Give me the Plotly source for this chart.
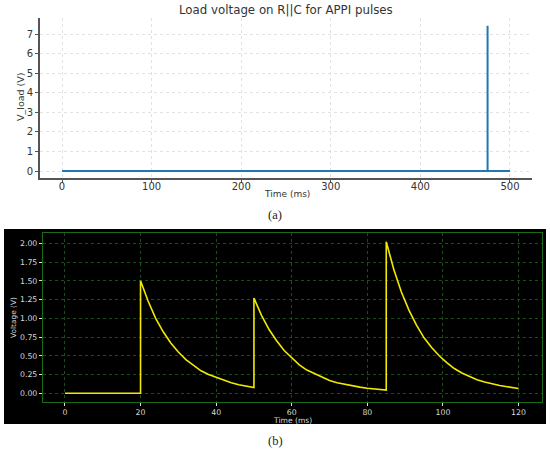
import plotly.graph_objects as go

# ---- (a) data ----
time_a = [0, 475, 475, 475, 500]
v_load = [0, 0, 7.43, 0, 0]
xticks_a = [0, 100, 200, 300, 400, 500]
yticks_a = [0, 1, 2, 3, 4, 5, 6, 7]

# ---- (b) data ----
time_b = [0, 20, 20, 22, 24, 26, 28, 30, 32, 34, 36, 38, 40, 42, 44, 46, 48, 50,
          50, 52, 54, 56, 58, 60, 62, 64, 66, 68, 70, 72, 74, 76, 78, 80, 82, 84, 85,
          85, 87, 89, 91, 93, 95, 97, 99, 101, 103, 105, 107, 109, 111, 113, 115, 117, 119, 120]
volt_b = [0, 0, 1.50, 1.23, 1.00, 0.82, 0.67, 0.55, 0.45, 0.37, 0.30, 0.25, 0.21, 0.17, 0.14, 0.115, 0.095, 0.078,
          1.27, 1.04, 0.85, 0.70, 0.57, 0.47, 0.38, 0.31, 0.26, 0.21, 0.17, 0.14, 0.118, 0.098, 0.082, 0.068, 0.056, 0.047, 0.044,
          2.02, 1.65, 1.35, 1.11, 0.91, 0.74, 0.61, 0.50, 0.41, 0.33, 0.27, 0.22, 0.18, 0.15, 0.125, 0.105, 0.088, 0.072, 0.065]
xticks_b = [0, 20, 40, 60, 80, 100, 120]
yticks_b = [0.0, 0.25, 0.5, 0.75, 1.0, 1.25, 1.5, 1.75, 2.0]

W, H = 550, 449
def px(x): return x / W
def py(y): return (H - y) / H

fig = go.Figure()
fig.add_trace(go.Scatter(x=time_a, y=v_load, mode="lines",
                         line=dict(color="#1f77b4", width=2), xaxis="x", yaxis="y",
                         showlegend=False, hoverinfo="skip"))
fig.add_trace(go.Scatter(x=time_b, y=volt_b, mode="lines",
                         line=dict(color="#f2ea00", width=1.6), xaxis="x2", yaxis="y2",
                         showlegend=False, hoverinfo="skip"))

font = "DejaVu Sans, Arial, sans-serif"
serif = "Liberation Serif, Times New Roman, serif"

def ann(text, x, y, size, color, family=font, angle=0):
    return dict(text=text, xref="paper", yref="paper", x=px(x), y=py(y),
                xanchor="center", yanchor="middle", showarrow=False, textangle=angle,
                font=dict(size=size, color=color, family=family))

fig.update_layout(
    width=W, height=H,
    margin=dict(l=0, r=0, t=0, b=0),
    paper_bgcolor="white",
    plot_bgcolor="white",
    font=dict(family=font, color="#333333"),
    xaxis=dict(domain=[px(40), px(532)], anchor="y", range=[-24.6, 524.6],
               tickvals=xticks_a, ticks="outside", ticklen=3, tickcolor="#555555",
               tickfont=dict(size=10, color="#333333"), ticklabelstandoff=-5,
               showline=True, linecolor="#555555", linewidth=1.6, mirror=False,
               showgrid=True, gridcolor="#e2e2e2", griddash="dot", gridwidth=1,
               zeroline=False),
    yaxis=dict(domain=[py(178), py(18)], anchor="x", range=[-0.358, 7.82],
               tickvals=yticks_a, ticks="outside", ticklen=3, tickcolor="#555555",
               tickfont=dict(size=10, color="#333333"),
               showline=True, linecolor="#555555", linewidth=1.6, mirror=False,
               showgrid=True, gridcolor="#e2e2e2", griddash="dot", gridwidth=1,
               zeroline=False),
    xaxis2=dict(domain=[px(43), px(542)], anchor="y2", range=[-5.8, 126.2],
                tickvals=xticks_b, ticks="outside", ticklen=3, tickcolor="#dddddd",
                tickfont=dict(size=7.8, color="#d8d8d8"),
                showline=True, linecolor="#1b6b1b", linewidth=1.2, mirror=True,
                showgrid=True, gridcolor="#145214", griddash="dot", gridwidth=1,
                zeroline=False),
    yaxis2=dict(domain=[py(402), py(233)], anchor="x2", range=[-0.116, 2.137],
                tickvals=yticks_b, tickformat=".2f", ticks="outside", ticklen=3, tickcolor="#dddddd",
                tickfont=dict(size=7.8, color="#d8d8d8"),
                showline=True, linecolor="#1b6b1b", linewidth=1.2, mirror=True,
                showgrid=True, gridcolor="#145214", griddash="dot", gridwidth=1,
                zeroline=False),
    shapes=[dict(type="rect", xref="paper", yref="paper", x0=px(4), x1=px(546),
                 y0=py(424), y1=py(229), fillcolor="black", line=dict(width=0), layer="below")],
    annotations=[
        ann("Load voltage on R||C for APPI pulses", 286, 10, 11.8, "#333333"),
        ann("Time (ms)", 287, 194, 9, "#333333"),
        ann("V_load (V)", 20, 97, 9.5, "#333333", angle=-90),
        ann("(a)", 275, 215, 12.5, "#222222", family=serif),
        ann("Time (ms)", 292, 420, 7.6, "#d8d8d8"),
        ann("Voltage (V)", 13, 318, 7.4, "#d8d8d8", angle=-90),
        ann("(b)", 275, 441, 12.5, "#222222", family=serif),
    ],
)

fig.write_html("out.html", config={"displayModeBar": False},
               post_script="document.body.style.margin='0';document.body.style.overflow='hidden';")
